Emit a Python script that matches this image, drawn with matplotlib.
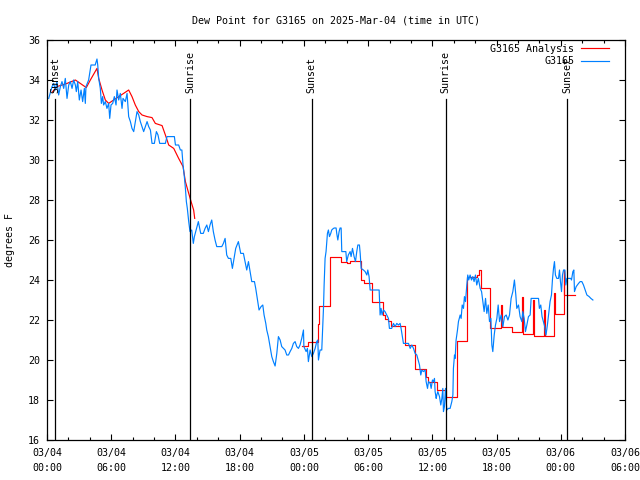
import numpy as np
import matplotlib
matplotlib.use("Agg")
import matplotlib.pyplot as plt
from matplotlib.ticker import MultipleLocator

plt.rcParams['font.family'] = ['DejaVu Sans Mono']
plt.rcParams['font.size'] = 7.2

# hours since 2025-03-04 00:00 UTC
obs_t = [0.16, 0.47, 0.62, 0.78, 0.93, 1.09, 1.25, 1.40, 1.56, 1.71, 1.87, 2.03, 2.18, 2.34, 2.49,
         2.65, 2.74, 2.87, 3.02, 3.18, 3.33, 3.49, 3.58, 3.64, 3.89, 4.11, 4.36, 4.50, 4.67, 4.74,
         4.83, 4.98, 5.08, 5.20, 5.29, 5.45, 5.60, 5.76, 5.86, 5.98, 6.14, 6.29, 6.45, 6.54, 6.70,
         6.85, 7.01, 7.10, 7.32, 7.48, 7.63, 7.79, 7.94, 8.10, 8.25, 8.41, 8.57, 8.72, 8.88, 9.03,
         9.19, 9.35, 9.50, 9.66, 9.81, 10.03, 10.22, 10.37, 10.53, 10.75, 11.06, 11.21, 11.53, 11.90, 12.00,
         12.30, 12.46, 12.60, 12.71, 12.83, 12.93, 13.02, 13.11, 13.24, 13.36, 13.52, 13.67, 13.77, 13.93, 14.14,
         14.36, 14.60, 14.77, 14.93, 15.08, 15.23, 15.39, 15.54, 15.70, 15.86, 16.33, 16.48, 16.64, 16.79, 16.95,
         17.17, 17.32, 17.48, 17.63, 17.88, 18.10, 18.35, 18.50, 18.66, 18.82, 18.97, 19.13, 19.38, 19.50, 19.60,
         19.69, 19.81, 20.00, 20.16, 20.28, 20.44, 20.53, 20.68, 20.84, 21.00, 21.15, 21.31, 21.47, 21.62, 21.78,
         21.93, 22.09, 22.24, 22.40, 22.56, 22.71, 22.87, 23.02, 23.18, 23.33, 23.49, 23.64, 23.80, 23.96, 24.00,
         24.21, 24.33, 24.42, 24.58, 24.74, 24.89, 25.05, 25.20, 25.30, 25.36, 25.51, 25.67, 25.76, 25.83, 25.89,
         25.98, 26.07, 26.20, 26.29, 26.39, 26.51, 26.60, 26.76, 26.85, 27.01, 27.07, 27.17, 27.29, 27.38, 27.48,
         27.54, 27.70, 27.92, 28.00, 28.15, 28.32, 28.41, 28.54, 28.69, 28.82, 28.94, 29.04, 29.19, 29.26, 29.35,
         29.56, 29.72, 29.88, 29.97, 30.09, 30.19, 30.34, 30.50, 31.03, 31.12, 31.21, 31.31, 31.43, 31.58, 31.74,
         31.90, 31.99, 32.20, 32.37, 32.52, 32.68, 32.83, 32.99, 33.08, 33.30, 33.46, 33.77, 33.93, 34.08, 34.24,
         34.39, 34.55, 34.71, 34.80, 34.92, 35.02, 35.17, 35.33, 35.42, 35.55, 35.64, 35.80, 35.89, 36.01, 36.10,
         36.20, 36.26, 36.36, 36.42, 36.51, 36.67, 36.79, 36.89, 36.98, 37.04, 37.13, 37.23, 37.35, 37.50, 37.66,
         37.82, 37.92, 37.97, 38.07, 38.13, 38.22, 38.35, 38.44, 38.60, 38.69, 38.79, 38.91, 39.00, 39.10, 39.22,
         39.31, 39.40, 39.53, 39.66, 39.78, 39.90, 40.03, 40.15, 40.30, 40.47, 40.60, 40.72, 40.84, 40.97, 41.09,
         41.22, 41.34, 41.47, 41.56, 41.65, 41.78, 41.90, 42.03, 42.15, 42.28, 42.43, 42.59, 42.74, 42.90, 43.06,
         43.21, 43.36, 43.52, 43.67, 43.80, 43.89, 44.05, 44.20, 44.36, 44.45, 44.58, 44.70, 44.83, 44.98, 45.14,
         45.23, 45.45, 45.76, 45.92, 46.00, 46.13, 46.25, 46.37, 46.50, 46.62, 46.75, 46.87, 47.00, 47.13, 47.22,
         47.32, 47.41, 47.50, 47.63, 47.79, 47.88, 47.97, 48.07, 48.16, 48.26, 48.38, 48.47, 48.57, 48.72, 48.94,
         49.00, 49.13, 49.22, 49.28, 49.44, 49.66, 49.81, 49.97, 50.12, 50.28, 50.44, 50.65, 50.81, 51.00]
obs_v = [33.08, 33.67, 33.83, 33.50, 33.92, 33.25, 33.67, 33.92, 33.58, 34.08, 33.08, 33.75, 33.92, 33.58, 34.00,
         33.75, 33.42, 33.92, 33.00, 33.50, 32.92, 33.58, 32.83, 33.67, 34.00, 34.75, 34.75, 34.75, 35.05, 34.75,
         34.08, 33.58, 32.83, 33.17, 32.75, 32.92, 32.58, 32.83, 32.08, 32.75, 32.83, 33.17, 32.75, 33.50, 33.00,
         33.33, 32.58, 33.08, 32.92, 33.33, 32.17, 31.92, 31.58, 31.42, 31.92, 32.42, 32.25, 31.92, 31.67, 31.42,
         31.67, 31.92, 31.67, 31.50, 30.83, 30.83, 31.42, 31.25, 30.83, 30.83, 30.83, 31.17, 31.17, 31.17, 30.75,
         30.75, 30.50, 30.50, 29.75, 29.17, 28.58, 27.92, 27.58, 26.92, 26.42, 26.50, 25.83, 26.17, 26.50, 26.92,
         26.33, 26.33, 26.58, 26.75, 26.42, 26.75, 27.00, 26.42, 26.00, 25.67, 25.67, 25.83, 26.08, 25.25, 25.08,
         25.08, 24.58, 25.08, 25.58, 25.92, 25.33, 25.33, 24.92, 24.50, 24.92, 24.42, 23.92, 23.92, 23.58, 23.25,
         22.92, 22.50, 22.67, 22.75, 22.25, 21.83, 21.50, 21.17, 20.67, 20.17, 19.92, 19.70, 20.33, 21.17, 21.00,
         20.67, 20.58, 20.50, 20.25, 20.25, 20.42, 20.58, 20.83, 20.92, 20.67, 20.58, 20.75, 21.08, 21.50, 20.67,
         20.42, 20.58, 19.92, 20.50, 20.17, 20.33, 20.58, 20.92, 21.00, 20.00, 20.50, 20.50, 21.75, 22.58, 23.75,
         25.08, 25.42, 26.33, 26.50, 26.17, 26.33, 26.50, 26.58, 26.60, 26.60, 26.33, 26.00, 26.42, 26.60, 26.60,
         25.42, 25.42, 25.42, 24.92, 25.25, 25.42, 25.17, 25.58, 25.17, 24.92, 25.42, 25.75, 25.75, 25.33, 24.58,
         24.50, 24.42, 24.25, 24.50, 24.17, 23.50, 23.50, 23.50, 23.50, 22.25, 22.58, 22.25, 22.50, 22.42, 22.25,
         22.08, 21.58, 21.58, 21.83, 21.67, 21.83, 21.75, 21.83, 21.58, 20.83, 20.83, 20.83, 20.58, 20.75, 20.58,
         20.33, 20.25, 19.92, 19.75, 19.25, 19.50, 19.42, 19.50, 18.92, 18.58, 18.92, 18.83, 18.58, 19.00, 18.92,
         19.08, 18.42, 18.08, 18.25, 18.42, 18.17, 17.75, 18.08, 18.58, 17.42, 17.67, 18.58, 17.50, 17.58, 17.58,
         17.92, 18.25, 19.58, 20.25, 20.08, 21.00, 21.50, 21.92, 22.25, 22.08, 22.75, 22.58, 23.17, 22.92, 23.75,
         24.25, 24.00, 24.25, 24.00, 24.17, 23.92, 24.25, 23.75, 24.08, 23.58, 23.42, 22.92, 22.42, 23.08, 22.33,
         22.75, 21.92, 22.08, 20.75, 20.42, 21.25, 21.75, 22.08, 22.75, 21.92, 22.25, 21.67, 22.17, 22.25, 22.00,
         22.25, 23.08, 23.42, 24.00, 23.25, 22.58, 22.75, 22.17, 21.92, 22.42, 22.08, 21.42, 21.75, 22.17, 22.25,
         23.08, 23.08, 23.08, 23.08, 22.58, 22.75, 22.17, 21.92, 21.67, 21.25, 21.75, 22.33, 22.92, 23.25, 24.00,
         24.58, 24.92, 24.25, 24.08, 24.08, 24.50, 23.92, 23.42, 24.25, 24.50, 24.50, 23.75, 24.08, 24.08, 24.08,
         24.00, 24.42, 24.50, 23.42, 23.67, 23.83, 23.92, 23.92, 23.75, 23.50, 23.25, 23.17, 23.08, 23.00]

# analysis: smooth part (first day) and hourly steps (later)
ana1_t = [0.50, 0.93, 1.87, 2.65, 3.11, 3.67, 4.05, 4.67, 4.83, 5.14, 5.45, 5.76, 6.23, 6.70, 7.16,
          7.63, 7.94, 8.25, 8.57, 8.88, 9.35, 9.81, 10.12, 10.75, 11.06, 11.37, 11.84, 12.30, 12.71, 12.93,
          13.24, 13.46, 13.70, 13.80]
ana1_v = [33.40, 33.67, 33.83, 34.00, 33.83, 33.62, 34.00, 34.58, 34.08, 33.50, 33.00, 32.83, 33.00, 33.17, 33.33,
          33.50, 33.17, 32.75, 32.42, 32.25, 32.17, 32.12, 31.83, 31.72, 31.25, 30.75, 30.58, 30.08, 29.67, 28.92,
          28.33, 27.92, 27.50, 27.08]
ana2_t = [23.80, 24.42, 25.36, 25.42, 26.45, 27.45, 28.00, 28.30, 29.35, 29.60, 30.40, 31.37, 31.60, 31.85, 32.10,
          33.40, 34.40, 35.40, 35.55, 36.42, 37.29, 38.35, 39.28, 40.21, 40.40, 40.53, 41.40, 42.40, 42.48, 43.43,
          44.36, 44.44, 45.39, 45.47, 46.45, 46.53, 47.41, 47.49, 48.26, 48.34, 49.35]
ana2_v = [20.72, 20.88, 21.80, 22.72, 25.13, 24.92, 24.83, 24.95, 24.00, 23.83, 22.88, 22.25, 22.05, 21.95, 21.70,
          20.75, 19.53, 19.13, 18.88, 18.50, 18.13, 20.97, 24.17, 24.25, 24.50, 23.58, 21.58, 22.75, 21.67, 21.38,
          23.17, 21.30, 23.00, 21.22, 22.50, 21.22, 23.33, 22.28, 24.50, 23.25, 23.25]

sun_t = [0.78, 13.39, 24.74, 37.26, 48.60]
sun_lbl = ['Sunset', 'Sunrise', 'Sunset', 'Sunrise', 'Sunset']

xticks = np.arange(0, 55, 6)
xlabels = ['03/04\n00:00', '03/04\n06:00', '03/04\n12:00', '03/04\n18:00', '03/05\n00:00',
           '03/05\n06:00', '03/05\n12:00', '03/05\n18:00', '03/06\n00:00', '03/06\n06:00']

fig = plt.figure(figsize=(6.4, 4.8), dpi=100)
ax = fig.add_axes([47/640, 40/480, 578/640, 400/480])

red = '#ff0000'
blue = '#0080ff'
ax.plot(ana1_t, ana1_v, color=red, lw=0.85, label='G3165 Analysis')
ax.plot(ana2_t, ana2_v, color=red, lw=0.85, drawstyle='steps-post')
ax.plot(obs_t, obs_v, color=blue, lw=0.85, label='G3165')

for t, s in zip(sun_t, sun_lbl):
    ax.axvline(t, ymin=0, ymax=0.852, color='black', lw=0.9)
    ax.text(t, 0.867, s, transform=ax.get_xaxis_transform(), rotation=90,
            ha='center', va='bottom')

ax.set_xlim(0, 54)
ax.set_ylim(16, 36)
ax.set_xticks(xticks)
ax.set_xticklabels(xlabels, linespacing=1.55)
ax.xaxis.set_minor_locator(MultipleLocator(2))
ax.set_yticks(np.arange(16, 37, 2))
ax.tick_params(which='both', direction='in', top=True, right=True, width=0.8)
ax.tick_params(which='major', length=4)
ax.tick_params(which='minor', length=2)
ax.tick_params(axis='x', pad=6)
ax.tick_params(axis='y', pad=5)
for sp in ax.spines.values():
    sp.set_linewidth(0.9)

ax.set_title('Dew Point for G3165 on 2025-Mar-04 (time in UTC)', fontsize=7.2, pad=12)
fig.text(10/640, 0.5, 'degrees F', rotation=90, ha='center', va='center')

ax.legend(loc='upper right', bbox_to_anchor=(0.973, 0.99), frameon=False, markerfirst=False,
          borderpad=0, borderaxespad=0, handlelength=2.8, handletextpad=0.7, labelspacing=0.25)

fig.savefig('out.png', dpi=100)
